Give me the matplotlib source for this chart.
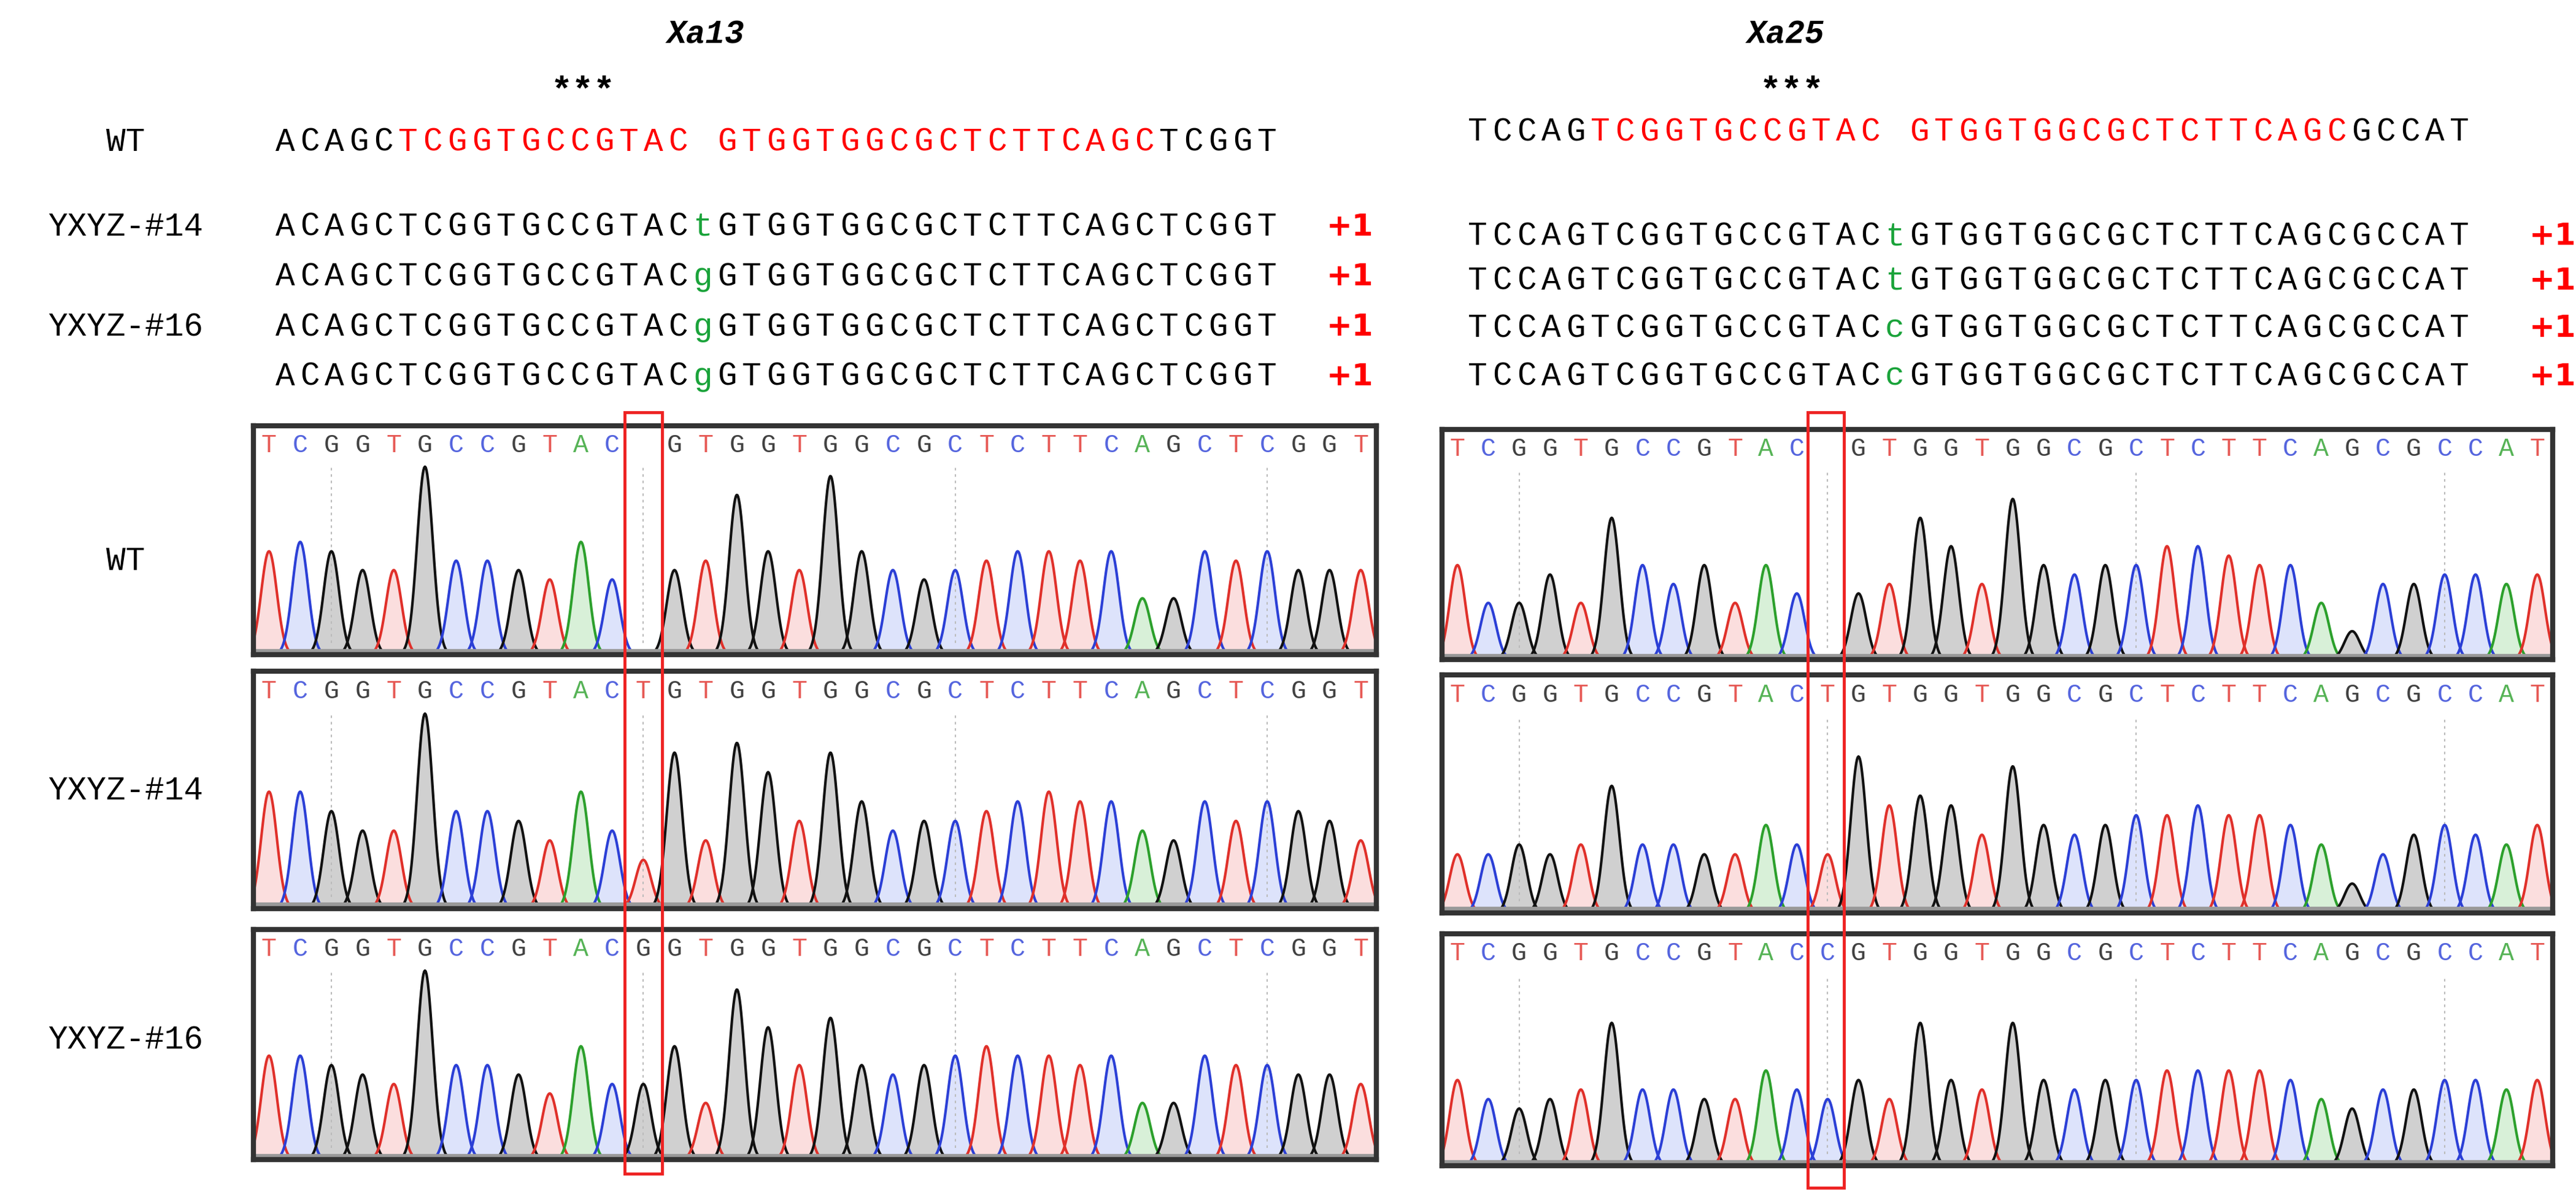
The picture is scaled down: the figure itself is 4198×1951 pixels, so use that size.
import numpy as np
import matplotlib
matplotlib.use("Agg")
import matplotlib.pyplot as plt
from matplotlib.patches import Rectangle

W, H = 4198, 1951
MONO = "Liberation Mono"

# ---------------------------------------------------------------------------
# Data
# ---------------------------------------------------------------------------
genes = ["Xa13", "Xa25"]
row_labels = ["WT", "YXYZ-#14", "YXYZ-#16"]

# aligned sequences: (prefix, target, suffix) for WT; inserted base for mutants
xa13_wt = ("ACAGC", "TCGGTGCCGTAC", "GTGGTGGCGCTCTTCAGC", "TCGGT")
xa25_wt = ("TCCAG", "TCGGTGCCGTAC", "GTGGTGGCGCTCTTCAGC", "GCCAT")
xa13_ins = ["t", "g", "g", "g"]
xa25_ins = ["t", "t", "c", "c"]
indel_label = "+1"

# chromatogram base calls ('-' = gap) and relative peak heights
chrom_seqs = {
    "Xa13": ["TCGGTGCCGTAC-GTGGTGGCGCTCTTCAGCTCGGT",
             "TCGGTGCCGTACTGTGGTGGCGCTCTTCAGCTCGGT",
             "TCGGTGCCGTACGGTGGTGGCGCTCTTCAGCTCGGT"],
    "Xa25": ["TCGGTGCCGTAC-GTGGTGGCGCTCTTCAGCGCCAT",
             "TCGGTGCCGTACTGTGGTGGCGCTCTTCAGCGCCAT",
             "TCGGTGCCGTACCGTGGTGGCGCTCTTCAGCGCCAT"],
}
chrom_heights = {
    "Xa13": [
        [.55, .6, .55, .45, .45, 1.0, .5, .5, .45, .4, .6, .4, 0, .45, .5, .85, .55, .45,
         .95, .55, .45, .4, .45, .5, .55, .55, .5, .55, .3, .3, .55, .5, .55, .45, .45, .45],
        [.6, .6, .5, .4, .4, 1.0, .5, .5, .45, .35, .6, .4, .25, .8, .35, .85, .7, .45,
         .8, .55, .4, .45, .45, .5, .55, .6, .55, .55, .4, .35, .55, .45, .55, .5, .45, .35],
        [.55, .55, .5, .45, .4, 1.0, .5, .5, .45, .35, .6, .4, .4, .6, .3, .9, .7, .5,
         .75, .5, .45, .5, .55, .6, .55, .55, .5, .55, .3, .3, .55, .5, .5, .45, .45, .4],
    ],
    "Xa25": [
        [.5, .3, .3, .45, .3, .75, .5, .4, .5, .3, .5, .35, 0, .35, .4, .75, .6, .4,
         .85, .5, .45, .5, .5, .6, .6, .55, .5, .5, .3, .15, .4, .4, .45, .45, .4, .45],
        [.3, .3, .35, .3, .35, .65, .35, .35, .3, .3, .45, .35, .3, .8, .55, .6, .55, .4,
         .75, .45, .4, .45, .5, .5, .55, .5, .5, .45, .35, .15, .3, .4, .45, .4, .35, .45],
        [.45, .35, .3, .35, .4, .75, .4, .4, .35, .35, .5, .4, .35, .45, .35, .75, .45, .4,
         .75, .45, .4, .45, .45, .5, .5, .5, .5, .45, .35, .3, .4, .4, .45, .45, .4, .45],
    ],
}

BASE_COL = {"A": "#2ca02c", "C": "#2b3fd6", "G": "#111111", "T": "#e0302a"}
FILL_COL = {"A": "#d8f0d8", "C": "#dde3fb", "G": "#d0d0d0", "T": "#fbdede"}

fig = plt.figure(figsize=(W / 100, H / 100), dpi=100)
ax = fig.add_axes([0, 0, 1, 1])
ax.set_xlim(0, W)
ax.set_ylim(H, 0)
ax.axis("off")

CW = 40.0  # character pitch in pixels


def put_seq(x0, y, chunks, size=38):
    x = x0
    for txt, col in chunks:
        for ch in txt:
            ax.text(x, y, ch, family=MONO, fontsize=size, color=col,
                    ha="left", va="center")
            x += CW


panels = {"Xa13": dict(title_x=1150, seq_x=449, wt_y=232, rows=[370, 451, 533, 614],
                       star_x=950, plus_x=2200, wt=xa13_wt, ins=xa13_ins,
                       box_x=413, box_w=1830,
                       boxes=[(694, 1067), (1094, 1481), (1515, 1890)],
                       red=(1018, 1079, 672, 1913)),
          "Xa25": dict(title_x=2910, seq_x=2392, wt_y=215, rows=[385, 458, 535, 614],
                       star_x=2920, plus_x=4160, wt=xa25_wt, ins=xa25_ins,
                       box_x=2350, box_w=1810,
                       boxes=[(700, 1075), (1100, 1488), (1522, 1900)],
                       red=(2946, 3005, 672, 1936))}

for g in genes:
    p = panels[g]
    ax.text(p["title_x"], 56, g, family=MONO, fontsize=38, fontweight="bold",
            fontstyle="italic", ha="center", va="center")
    ax.text(p["star_x"], 150, "***", family=MONO, fontsize=42, fontweight="bold",
            ha="center", va="center")
    pre, t1, t2, suf = p["wt"]
    put_seq(p["seq_x"], p["wt_y"], [(pre, "black"), (t1, "red"), (" ", "black"),
                                   (t2, "red"), (suf, "black")])
    for y, ins in zip(p["rows"], p["ins"]):
        put_seq(p["seq_x"], y, [(pre + t1, "black"), (ins, "#1aa33a"),
                                (t2 + suf, "black")])
        ax.text(p["plus_x"], y, indel_label, fontsize=36, fontweight="bold",
                color="red", ha="center", va="center", family="DejaVu Sans")

for y, lab in zip([232, 370, 533], row_labels):
    ax.text(205, y, lab, family=MONO, fontsize=38, ha="center", va="center")
for y, lab in zip([915, 1289, 1695], row_labels):
    ax.text(205, y, lab, family=MONO, fontsize=38, ha="center", va="center")

# chromatogram panels
xs = np.linspace(-0.5, 35.5, 1500)
for g in genes:
    p = panels[g]
    for r, (y0, y1) in enumerate(p["boxes"]):
        cax = fig.add_axes([p["box_x"] / W, 1 - y1 / H, p["box_w"] / W, (y1 - y0) / H])
        cax.set_xlim(-0.5, 35.5)
        cax.set_ylim(0, 1.4)
        cax.set_xticks([])
        cax.set_yticks([])
        for s in cax.spines.values():
            s.set_linewidth(6)
            s.set_color("#333333")
        seq = chrom_seqs[g][r]
        hts = chrom_heights[g][r]
        for i in range(2, 36, 10):
            cax.axvline(i, ymin=0.05, ymax=0.82, color="#bbbbbb", lw=1.5, ls=(0, (2, 3)))
        for i, (b, h) in enumerate(zip(seq, hts)):
            if b == "-":
                continue
            yv = h * 1.15 * np.exp(-0.5 * ((xs - i) / 0.25) ** 2)
            m = yv > 0.005
            cax.fill_between(xs[m], 0, yv[m], color=FILL_COL[b], lw=0)
            cax.plot(xs[m], yv[m], color=BASE_COL[b], lw=3)
            cax.text(i, 1.28, b, family=MONO, fontsize=30, color=BASE_COL[b],
                     alpha=0.8, ha="center", va="center")
        cax.axhline(0.02, color="#999999", lw=6)

# red boxes on top of the inset axes
ov = fig.add_axes([0, 0, 1, 1], facecolor="none")
ov.set_xlim(0, W)
ov.set_ylim(H, 0)
ov.axis("off")
for g in genes:
    x0, x1, y0, y1 = panels[g]["red"]
    ov.add_patch(Rectangle((x0, y0), x1 - x0, y1 - y0, fill=False,
                           edgecolor="#ee2222", lw=3.5))

fig.savefig("out.png", dpi=100)
